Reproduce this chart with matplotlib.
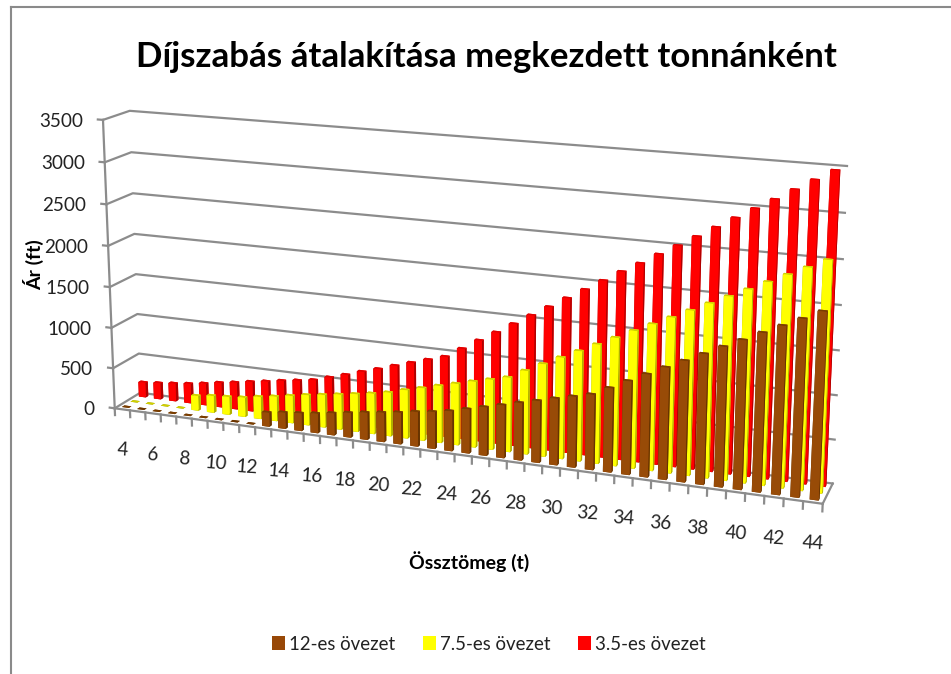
import numpy as np
import matplotlib
matplotlib.use("Agg")
import matplotlib.pyplot as plt
from matplotlib.colors import to_rgba_array
from matplotlib.lines import Line2D
from matplotlib.patches import Patch
from mpl_toolkits.mplot3d import Axes3D  # noqa: F401

plt.rcParams['font.family'] = ['Lato', 'DejaVu Sans']

W, H = 951, 674

# ---------- data ----------
tonnes = list(range(4, 45))
x_tick_labels = list(range(4, 45, 2))
value_ticks = [0, 500, 1000, 1500, 2000, 2500, 3000, 3500]

red_35 = [185, 202, 222, 243, 271, 305, 333, 366, 395, 428, 456, 486, 542, 599, 660, 717,
          781, 841, 901, 960, 1078, 1199, 1316, 1437, 1559, 1678, 1800, 1919, 2042, 2164,
          2277, 2398, 2514, 2633, 2754, 2875, 2994, 3112, 3234, 3355, 3473]
yellow_75 = [0, 0, 0, 0,
             182, 207, 220, 236, 270, 299, 333, 367, 395, 424, 454, 486, 523, 577, 626, 678,
             727, 778, 826, 874, 977, 1079, 1178, 1275, 1374, 1473, 1575, 1671, 1769, 1869,
             1968, 2067, 2165, 2266, 2366, 2465, 2565]
brown_12 = [0, 0, 0, 0, 0, 0, 0, 0, 0,
            169, 195, 213, 235, 265, 295, 324, 350, 376, 410, 436, 470, 519, 568, 617, 669,
            718, 770, 818, 866, 964, 1068, 1169, 1270, 1368, 1468, 1571, 1667, 1770, 1869,
            1967, 2067]

series_names = ['12-es övezet', '7.5-es övezet', '3.5-es övezet']

# ---------- camera: fitted from the corners of the chart box ----------
world = np.array([[0, 0, 0], [41, 0, 0], [41, 3, 0], [0, 3, 0],
                  [0, 0, 3500], [41, 3, 3500], [0, 3, 3500]], float)
pix = np.array([[115, 408], [822.7, 504], [832.7, 483.3], [140, 393],
                [102.7, 120], [847, 166], [130, 110.7]], float)
A = []
for (X, Y, Z), (u, v) in zip(world, pix):
    A.append([X, Y, Z, 1, 0, 0, 0, 0, -u*X, -u*Y, -u*Z, -u])
    A.append([0, 0, 0, 0, X, Y, Z, 1, -v*X, -v*Y, -v*Z, -v])
P = np.linalg.svd(np.array(A))[2][-1].reshape(3, 4)
P = P / P[2, 3]


def to_pix(X, Y, Z):
    h = P @ np.array([X, Y, Z, 1.0])
    return h[:2] / h[2]


fig = plt.figure(figsize=(W/100, H/100), dpi=100, facecolor='white')
side = W / H
ax = fig.add_axes([0, (1 - side) / 2, 1, side], projection='3d')
ax.set_axis_off()
ax.set_proj_type('ortho')   # no camera clipping of lines
ax.patch.set_alpha(0)
ax.computed_zorder = False
ax.apply_aspect()
inv = ax.transData.inverted()
p0 = inv.transform((0, H))       # image pixel (0,0)
p1 = inv.transform((W, 0))       # image pixel (W,H)
sx, ox = (p1[0] - p0[0]) / W, p0[0]
sy, oy = (p1[1] - p0[1]) / H, p0[1]
S = np.array([[sx, 0, ox], [0, sy, oy], [0, 0, 1]])
Q = S @ P
depth_row = [-2e-4, 0.02, -2e-6, 0.0]
M = np.array([Q[0], Q[1], depth_row, Q[2]], float)
ax.get_proj = lambda: M

GRID = '#8c8c8c'
LW = 1.6
x0, x1 = 0, 41
y0, y1 = 0, 3

# walls
for v in value_ticks:
    ax.plot([x0, x0, x1], [y0, y1, y1], [v, v, v], color=GRID, lw=LW, zorder=1)
# floor side
ax.plot([x1, x1], [y0, y1], [0, 0], color=GRID, lw=LW, zorder=1)

# bars
xs = np.arange(len(tonnes)) + 0.5
bw, bd = 0.46, 0.30
faces = {
    'r': ['#990000', '#e00000', '#ff0000', '#ff0000', '#b00000', '#b00000'],
    'y': ['#999900', '#d0d000', '#ffff00', '#ffff00', '#b0b000', '#b0b000'],
    'b': ['#6b3500', '#7a3d00', '#984b07', '#984b07', '#683400', '#683400'],
}
for vals, yc, key, z in [(red_35, 2.5, 'r', 2), (yellow_75, 1.5, 'y', 3), (brown_12, 0.5, 'b', 4)]:
    n = len(vals)
    cols = np.tile(to_rgba_array(faces[key]), (n, 1))
    ax.bar3d(xs - bw/2, np.full(n, yc - bd/2), np.zeros(n), bw, bd, np.array(vals, float),
             color=cols, shade=False, linewidth=0, edgecolor='none', zorder=z)

# front axis and value axis, ticks
ax.plot([x0, x1], [y0, y0], [0, 0], color=GRID, lw=LW, zorder=5)
ax.plot([x0, x0], [y0, y0], [0, 3500], color=GRID, lw=LW, zorder=1)
for i in range(len(tonnes) + 1):
    ax.plot([i, i], [y0, y0], [0, -85], color=GRID, lw=LW, zorder=5)
for v in value_ticks:
    ax.plot([x0, x0 - 0.33], [y0, y0], [v, v], color=GRID, lw=LW, zorder=1)


def ftext(px, py, s, **kw):
    return fig.text(px / W, 1 - py / H, s, **kw)


TXT = '#222222'
for v in value_ticks:
    px, py = to_pix(0, 0, v)
    ftext(px - 20, py + 1.5, str(v), ha='right', va='center', fontsize=13.6, color=TXT)
for t in x_tick_labels:
    px, py = to_pix(tonnes.index(t) + 0.5, 0, 0)
    ftext(px, py + 41, str(t), ha='center', va='center',
          fontsize=13.6, color=TXT, rotation=-4)

ftext(486, 57, 'Díjszabás átalakítása megkezdett tonnánként', ha='center', va='center',
      fontsize=25.1, fontweight='bold', color='black')
ftext(34, 265, 'Ár (ft)', ha='center', va='center', rotation=90, fontsize=14,
      fontweight='bold', color='black')
ftext(469, 562, 'Össztömeg (t)', ha='center', va='center', fontsize=14,
      fontweight='bold', color='black')

handles = [Patch(facecolor='#984807', label=series_names[0]),
           Patch(facecolor='#ffff00', label=series_names[1]),
           Patch(facecolor='#ff0000', label=series_names[2])]
fig.legend(handles=handles, ncol=3, loc='center', bbox_to_anchor=(489 / W, 1 - 644 / H),
           frameon=False, fontsize=13.4, handlelength=0.7, handleheight=0.85,
           handletextpad=0.2, columnspacing=1.5, labelcolor=TXT)

# chart-area border
BORDER = '#8a8a8a'
fig.add_artist(Line2D([11 / W, 11 / W], [0, 1 - 7 / H], color=BORDER, lw=1.5,
                      transform=fig.transFigure))
fig.add_artist(Line2D([11 / W, 1], [1 - 7 / H, 1 - 7 / H], color=BORDER, lw=1.5,
                      transform=fig.transFigure))

fig.savefig('out.png', dpi=100, facecolor='white')
